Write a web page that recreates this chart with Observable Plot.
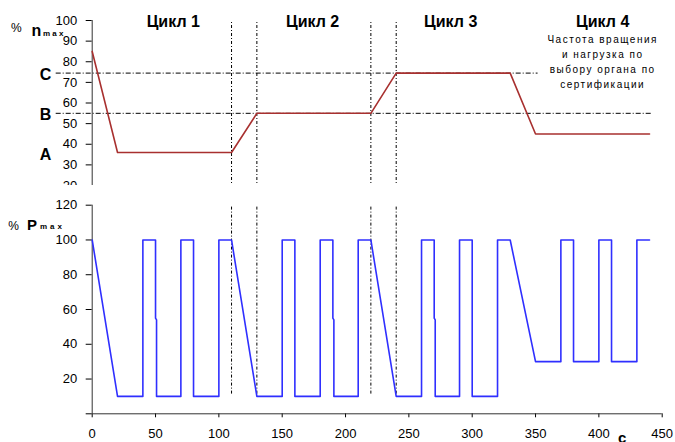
<!DOCTYPE html>
<html><head><meta charset="utf-8">
<script src="https://cdn.jsdelivr.net/npm/d3@7"></script>
<script src="https://cdn.jsdelivr.net/npm/@observablehq/plot@0.6"></script>
<style>
body{margin:0;background:#fff;}
#wrap{position:relative;width:675px;height:442px;overflow:hidden;background:#fff;font-family:"Liberation Sans",Arial,sans-serif;color:#000;}
#topChart,#botChart{position:absolute;left:0;}
#topChart{top:0;height:185px;overflow:hidden;}
#botChart{top:185px;}
.lab{position:absolute;white-space:nowrap;line-height:1;}
</style></head><body>
<div id="wrap">
  <div id="topChart"></div>
  <div id="botChart"></div>
  <span class="lab" style="left:11px;top:21.5px;font-size:12px;">%</span>
  <span class="lab" style="left:31.5px;top:23.2px;font-size:16px;font-weight:bold;">n</span>
  <span class="lab" style="left:43px;top:29.9px;font-size:8px;font-weight:bold;letter-spacing:2.2px;">max</span>
  <span class="lab" style="left:8.3px;top:219.8px;font-size:12px;">%</span>
  <span class="lab" style="left:27px;top:217.3px;font-size:15px;font-weight:bold;">P</span>
  <span class="lab" style="left:40px;top:223.2px;font-size:8px;font-weight:bold;letter-spacing:3px;">max</span>
  <span class="lab" style="left:618px;top:430.3px;font-size:15px;font-weight:bold;">с</span>
</div>
<script>
// ---- data ----
const xTicks = [0, 50, 100, 150, 200, 250, 300, 350, 400, 450];
const nTicks = [20, 30, 40, 50, 60, 70, 80, 90, 100];
const pTicks = [0, 20, 40, 60, 80, 100, 120];

const speedT = [0, 20, 110, 130, 220, 240, 330, 350, 440];
const speedV = [85, 36, 36, 55, 55, 74.5, 74.5, 45, 45];

const powerT = [0, 20, 40, 40, 50, 50, 50.8, 50.8, 70, 70, 80, 80, 100, 100, 110, 130,
  150, 150, 160, 160, 180, 180, 190, 190, 190.8, 190.8, 210, 210, 220, 240,
  260, 260, 270, 270, 270.8, 270.8, 290, 290, 300, 300, 320, 320, 330, 350,
  370, 370, 380, 380, 400, 400, 410, 410, 430, 430, 440];
const powerV = [100, 10, 10, 100, 100, 55, 54, 10, 10, 100, 100, 10, 10, 100, 100, 10,
  10, 100, 100, 10, 10, 100, 100, 55, 54, 10, 10, 100, 100, 10,
  10, 100, 100, 55, 54, 10, 10, 100, 100, 10, 10, 100, 100, 30,
  30, 100, 100, 30, 30, 100, 100, 30, 30, 100, 100];

const cycleBounds = [110, 130, 220, 240];
const cycleNames = ["Цикл 1", "Цикл 2", "Цикл 3", "Цикл 4"];
const cycleLabelT = [64, 174, 283, 403];

const levelNames = ["C", "B", "A"];
const levelValues = [74.5, 55, 36];
const refLineNames = ["C", "B"];
const refLineValues = [74.5, 55];
const refLineEnd = [352, 442];

const noteLines = ["Частота вращения", "и нагрузка по", "выбору органа по", "сертификации"];

// ---- build ----
const speed = speedT.map((t, i) => ({t, v: speedV[i]}));
const power = powerT.map((t, i) => ({t, v: powerV[i]}));
const refs = refLineNames.map((n, i) => ({n, v: refLineValues[i], end: refLineEnd[i]}));
const levels = levelNames.map((n, i) => ({n, v: levelValues[i]}));
const cycles = cycleNames.map((n, i) => ({n, t: cycleLabelT[i]}));

const font = '"Liberation Sans", Arial, sans-serif';
const red = "#a8302f", blue = "#2f2fff";

const topPlot = Plot.plot({
  width: 675, height: 185,
  marginTop: 20, marginBottom: 0, marginLeft: 91.7, marginRight: 13.3,
  style: {fontFamily: font, fontSize: "13px", background: "transparent", color: "#000"},
  x: {domain: [0, 450], axis: null},
  y: {domain: [20, 100], ticks: nTicks, tickSize: 6, tickPadding: 9, label: null},
  marks: [
    Plot.ruleY(refs, {y: "v", x1: 0, x2: "end", insetLeft: -36, stroke: "#000", strokeWidth: 1, strokeDasharray: "5,2,1,2"}),
    Plot.ruleX(cycleBounds, {x: d => d, y1: 20, y2: 100, insetTop: 3, stroke: "#000", strokeWidth: 1, strokeDasharray: "3,2,1,2"}),
    Plot.ruleX([0], {stroke: "#333"}),
    Plot.line(speed, {x: "t", y: "v", stroke: red, strokeWidth: 1.6}),
    Plot.text(levels, {y: "v", text: "n", frameAnchor: "left", textAnchor: "end", dx: -41, dy: 2, fontWeight: "bold", fontSize: 16}),
    Plot.text(cycles, {x: "t", text: "n", frameAnchor: "top", lineAnchor: "top", dy: -5, fontWeight: "bold", fontSize: 16}),
    Plot.text([noteLines.join("\n")], {x: [cycleLabelT[3]], text: d => d, frameAnchor: "top", lineAnchor: "top", dy: 12.2, fontSize: 10, lineHeight: 1.48})
  ]
});
d3.select(topPlot).selectAll("text").filter(function () { return this.textContent.startsWith("Частота"); })
  .attr("letter-spacing", "1.5px");
document.getElementById("topChart").appendChild(topPlot);

const botPlot = Plot.plot({
  width: 675, height: 257,
  marginTop: 19.7, marginBottom: 28.7, marginLeft: 91.7, marginRight: 13.3,
  style: {fontFamily: font, fontSize: "13px", background: "transparent", color: "#000"},
  x: {domain: [0, 450], ticks: xTicks, tickSize: 4, tickPadding: 11, label: null},
  y: {domain: [0, 120], ticks: pTicks, tickSize: 6, tickPadding: 9, tickFormat: d => d === 0 ? "" : d, label: null},
  marks: [
    Plot.ruleX(cycleBounds, {x: d => d, y1: 0, y2: 120, insetTop: -19.7, stroke: "#000", strokeWidth: 1, strokeDasharray: "3,2,1,2"}),
    Plot.ruleX([0], {stroke: "#333"}),
    Plot.ruleY([0], {stroke: "#333"}),
    Plot.line(power, {x: "t", y: "v", stroke: blue, strokeWidth: 1.6})
  ]
});
document.getElementById("botChart").appendChild(botPlot);
</script>
</body></html>
